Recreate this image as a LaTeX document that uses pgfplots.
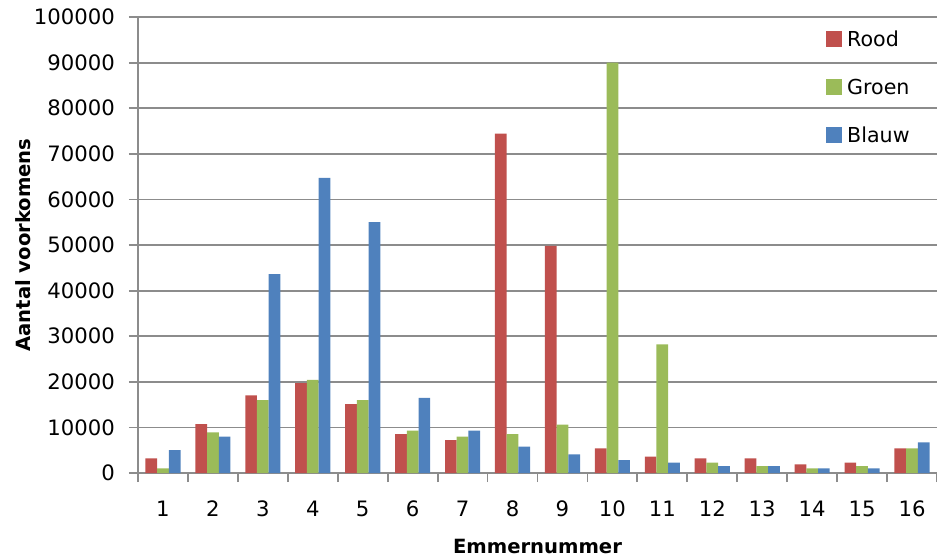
\documentclass[border=0pt]{standalone}
\usepackage{fontspec}
\setmainfont{DejaVu Sans}
\usepackage{pgfplots}
\pgfplotsset{compat=1.18}
\definecolor{rood}{HTML}{C0504D}
\definecolor{groen}{HTML}{9BBB59}
\definecolor{blauw}{HTML}{4F81BD}
\definecolor{lijngrijs}{HTML}{8C8C8C}

\begin{document}
\begin{tikzpicture}
\begin{axis}[
  at={(0,0)}, anchor=south west,
  scale only axis, width=399.5pt, height=228pt,
  xmin=0.5, xmax=16.5, ymin=0, ymax=100000,
  ybar=0pt, bar width=5.85pt,
  axis x line*=bottom, axis y line*=left,
  axis line style={lijngrijs, line width=0.9pt},
  tick align=outside, major tick length=4.5pt,
  tick style={lijngrijs, line width=0.9pt},
  xtick={0.5,1.5,...,16.5}, xticklabels={},
  extra x ticks={1,2,...,16},
  extra x tick labels={1,2,3,4,5,6,7,8,9,10,11,12,13,14,15,16},
  extra x tick style={major tick length=0pt, xticklabel style={yshift=-10.5pt}},
  ytick={0,10000,...,100000},
  scaled y ticks=false,
  yticklabel style={/pgf/number format/fixed, /pgf/number format/1000 sep={}, xshift=-3.5pt},
  /pgf/number format/assume math mode=true,
  ymajorgrids, grid style={lijngrijs, line width=0.9pt},
  tick label style={font=\fontsize{10.6}{12}\selectfont, text=black},
  xlabel={Emmernummer}, ylabel={Aantal voorkomens},
  every axis x label/.style={at={(axis description cs:0.5,-0.161)}, anchor=center,
    font=\fontsize{9.8}{12}\selectfont\bfseries},
  every axis y label/.style={at={(axis description cs:-0.1439,0.5)}, rotate=90, anchor=center,
    font=\fontsize{9.8}{12}\selectfont\bfseries},
  legend style={at={(axis description cs:0.8606,0.8465)}, anchor=west,
    draw=none, fill=none, inner sep=0pt, row sep=14pt,
    font=\fontsize{10.3}{12}\selectfont,
    nodes={inner xsep=2.6pt, inner ysep=1.2pt, text height=7.5pt, text depth=0pt}},
  legend cell align=left,
  legend image code/.code={\fill[#1] (0pt,-4pt) rectangle (8pt,4pt);},
]
\addplot[fill=rood, draw=none] coordinates {
  (1,3200) (2,10700) (3,17000) (4,19700) (5,15100) (6,8500) (7,7200) (8,74400)
  (9,49800) (10,5400) (11,3600) (12,3200) (13,3200) (14,1900) (15,2300) (16,5400)};
\addplot[fill=groen, draw=none] coordinates {
  (1,1000) (2,8900) (3,16000) (4,20400) (5,16000) (6,9300) (7,8000) (8,8500)
  (9,10600) (10,90000) (11,28200) (12,2300) (13,1500) (14,1000) (15,1500) (16,5400)};
\addplot[fill=blauw, draw=none] coordinates {
  (1,5000) (2,8000) (3,43600) (4,64700) (5,55000) (6,16500) (7,9300) (8,5800)
  (9,4100) (10,2800) (11,2300) (12,1500) (13,1500) (14,1000) (15,1000) (16,6700)};
\legend{Rood, Groen, Blauw}
\end{axis}
\pgfresetboundingbox
\path[use as bounding box] (-69pt,-42.5pt) rectangle (399.5pt,236.5pt);
\end{tikzpicture}
\end{document}
